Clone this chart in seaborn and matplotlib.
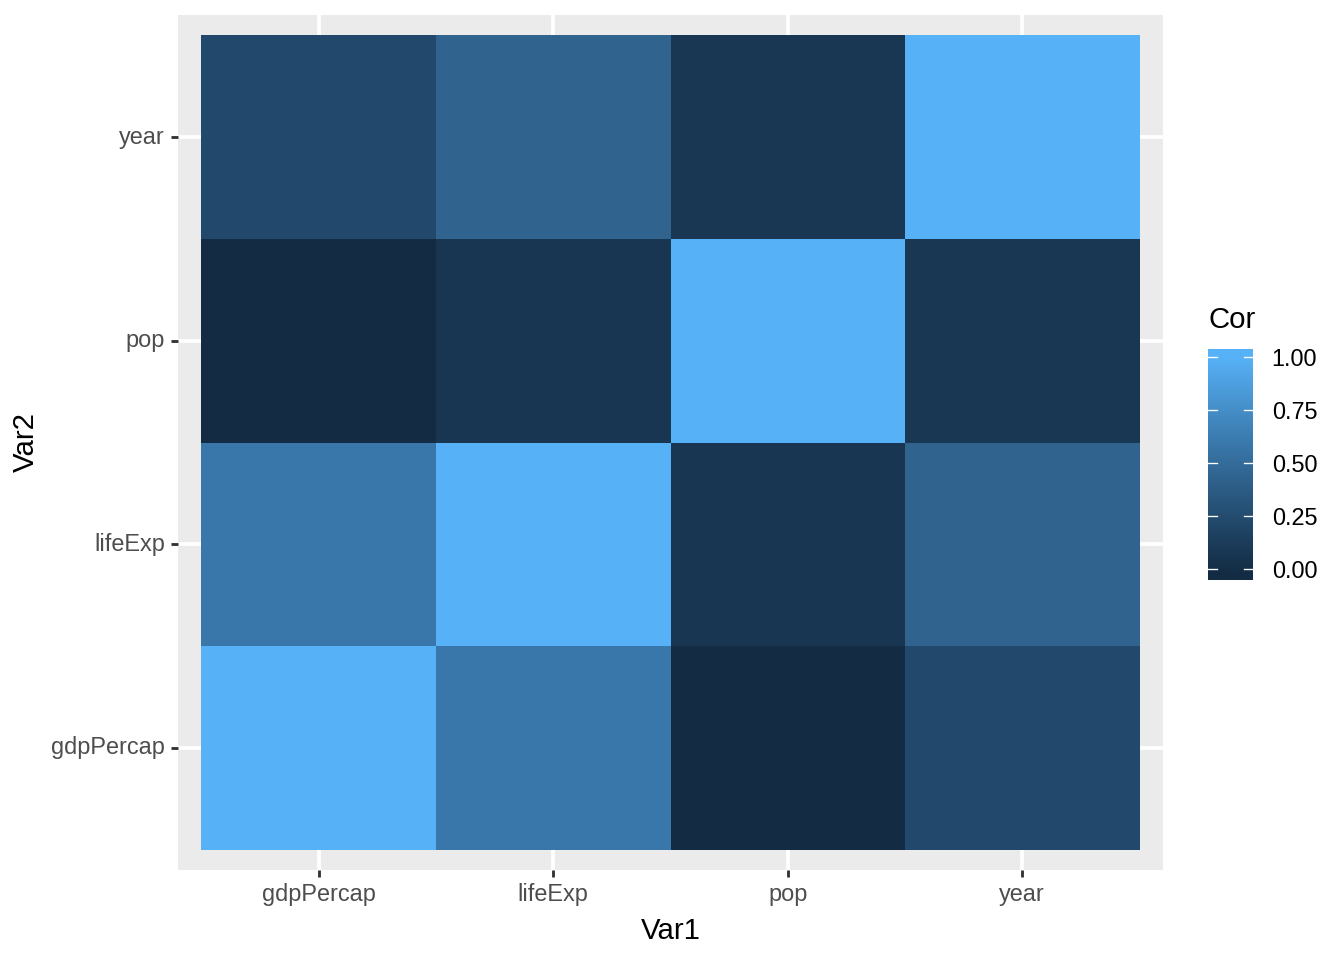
import numpy as np
import pandas as pd
import matplotlib
matplotlib.use("Agg")
import matplotlib.pyplot as plt
import seaborn as sns
from matplotlib.colors import ListedColormap

# gapminder correlation matrix
var_names = ["gdpPercap", "lifeExp", "pop", "year"]
cor_values = [
    [1.0000, 0.5837, -0.0256, 0.2273],
    [0.5837, 1.0000, 0.0650, 0.4356],
    [-0.0256, 0.0650, 1.0000, 0.0823],
    [0.2273, 0.4356, 0.0823, 1.0000],
]
legend_breaks = [0.0, 0.25, 0.5, 0.75, 1.0]

LOW = "#132B43"
HIGH = "#56B1F7"


# ggplot interpolates its gradient in Lab space
def hex_to_lab(h):
    rgb = np.array([int(h[i:i + 2], 16) for i in (1, 3, 5)]) / 255.0
    lin = np.where(rgb <= 0.04045, rgb / 12.92, ((rgb + 0.055) / 1.055) ** 2.4)
    M = np.array([[0.4124, 0.3576, 0.1805],
                  [0.2126, 0.7152, 0.0722],
                  [0.0193, 0.1192, 0.9505]])
    xyz = M @ lin / np.array([0.95047, 1.0, 1.08883])
    d = 6 / 29
    f = np.where(xyz > d ** 3, np.cbrt(xyz), xyz / (3 * d * d) + 4 / 29)
    return np.array([116 * f[1] - 16, 500 * (f[0] - f[1]), 200 * (f[1] - f[2])])


def lab_to_rgb(lab):
    L, a, b = lab
    fy = (L + 16) / 116
    fx = fy + a / 500
    fz = fy - b / 200
    d = 6 / 29
    f = np.array([fx, fy, fz])
    xyz = np.where(f > d, f ** 3, 3 * d * d * (f - 4 / 29)) * np.array([0.95047, 1.0, 1.08883])
    Minv = np.linalg.inv(np.array([[0.4124, 0.3576, 0.1805],
                                   [0.2126, 0.7152, 0.0722],
                                   [0.0193, 0.1192, 0.9505]]))
    lin = Minv @ xyz
    rgb = np.where(lin <= 0.0031308, 12.92 * lin, 1.055 * np.clip(lin, 0, None) ** (1 / 2.4) - 0.055)
    return np.clip(rgb, 0, 1)


lo, hi = hex_to_lab(LOW), hex_to_lab(HIGH)
cmap = ListedColormap([lab_to_rgb(lo + t * (hi - lo)) for t in np.linspace(0, 1, 256)])

# rows top -> bottom (heatmap draws first row on top)
df = pd.DataFrame(cor_values, index=var_names, columns=var_names).T
df = df.iloc[::-1]

vmin = float(np.min(cor_values))
vmax = float(np.max(cor_values))

plt.rcParams["font.family"] = ["Liberation Sans", "DejaVu Sans"]

fig = plt.figure(figsize=(7, 5), dpi=192)
ax = fig.add_axes([178 / 1344, 1 - 870 / 960, (1163 - 178) / 1344, (870 - 15) / 960])
cax = fig.add_axes([1208 / 1344, 1 - 580 / 960, 45 / 1344, 231 / 960])

sns.heatmap(df, cmap=cmap, vmin=vmin, vmax=vmax, ax=ax, cbar_ax=cax,
            linewidths=0)

ax.set_facecolor("#EBEBEB")
ax.set_axisbelow(True)
ax.grid(True, color="white", linewidth=1.42)
ax.set_xlim(-0.1, 4.1)
ax.set_ylim(4.1, -0.1)
for s in ax.spines.values():
    s.set_visible(False)

ax.set_xticklabels(var_names, rotation=0)
ax.set_yticklabels(list(df.index), rotation=0)
ax.tick_params(axis="both", colors="#333333", length=2.75, width=1.07,
               labelsize=8.8, labelcolor="#4D4D4D", pad=2.2)
ax.set_xlabel("Var1", fontsize=11, color="black", labelpad=4)
ax.set_ylabel("Var2", fontsize=11, color="black", labelpad=4)

# legend styling: bar padded a little beyond the data range, as ggplot does
cb_lo, cb_hi = -0.052, 1.038
cax.set_ylim(cb_lo, cb_hi)
cax.axhspan(vmax, cb_hi, color=cmap(1.0), linewidth=0)
cax.axhspan(cb_lo, vmin, color=cmap(0.0), linewidth=0)
cax.set_yticks(legend_breaks)
cax.set_yticklabels([f"{b:.2f}" for b in legend_breaks])
cax.tick_params(axis="y", length=0, labelsize=8.8, labelcolor="black", pad=7)
tr = cax.get_yaxis_transform()
for b in legend_breaks:
    cax.plot([0, 0.2], [b, b], color="white", linewidth=0.5, transform=tr)
    cax.plot([0.8, 1], [b, b], color="white", linewidth=0.5, transform=tr)
fig.text(1208 / 1344, 1 - 320 / 960, "Cor", fontsize=11, ha="left", va="center")

fig.savefig("out.png", dpi=192)
